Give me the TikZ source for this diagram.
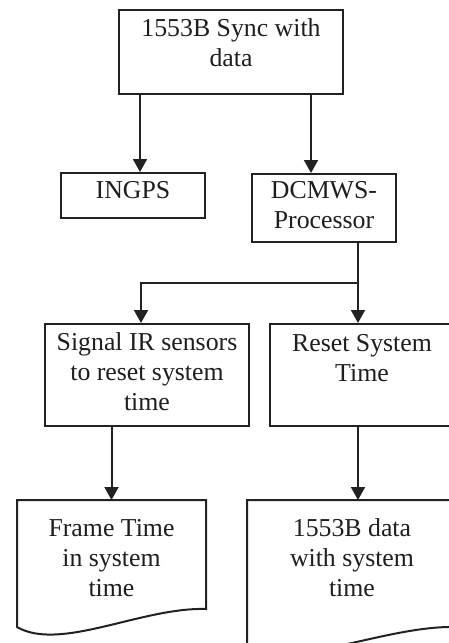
\documentclass[tikz,border=0pt]{standalone}
\usepackage{fontspec}
\setmainfont{Liberation Serif}
\usetikzlibrary{calc, arrows.meta, positioning}
\definecolor{inkline}{HTML}{222222}
\definecolor{inktext}{HTML}{1E1E1E}

\begin{document}
\begin{tikzpicture}[
    x=1pt, y=-1pt,
    >={Triangle[length=13pt, width=14pt]},
    line width=2pt,
    box/.style={draw=inkline, rectangle, anchor=north west, inner sep=0pt},
    page/.style={rectangle, anchor=north west, inner sep=0pt},
    boxtext/.style={inner sep=0pt, align=center, text=inktext,
        font=\fontsize{25.8}{30}\selectfont},
    flow/.style={->, draw=inkline},
    link/.style={draw=inkline}
]

    % Frame of the picture (pixel grid, y downwards)
    \useasboundingbox (0,0) rectangle (449,643);
    \clip (0,0) rectangle (449,643);

    % 1. Sync source
    \node[box, minimum width=224pt, minimum height=84pt] (sync) at (118,9) {};
    \node[boxtext, below=9pt of sync.north] (sync-t) {1553B Sync with\\data};

    % 2. Receivers
    \node[box, minimum width=144pt, minimum height=45pt] (ingps) at (60,172) {};
    \node[boxtext, below=8pt of ingps.north] (ingps-t) {INGPS};

    \node[box, minimum width=144pt, minimum height=68pt] (dcmws) at (251,173) {};
    \node[boxtext, below=7pt of dcmws.north] (dcmws-t) {DCMWS-\\Processor};

    % 3. Processor actions
    \node[box, minimum width=204pt, minimum height=102pt] (signal) at (44,323) {};
    \node[boxtext, below=9pt of signal.north] (signal-t) {Signal IR sensors\\to reset system\\time};

    \node[box, minimum width=184pt, minimum height=102pt] (reset) at (269,323) {};
    \node[boxtext, below=10pt of reset.north] (reset-t) {Reset System\\Time};

    % 4. Output documents (wavy bottom)
    \node[page, minimum width=187pt, minimum height=107pt] (frame) at (17,500) {};
    \draw[inkline] (frame.north west) -- (frame.north east) -- (frame.south east)
        .. controls ($(frame.south east)+(-64,-2)$) and ($(frame.south west)+(43,43)$)
        .. ($(frame.south west)+(0,18)$) -- cycle;
    \node[boxtext, below=18pt of frame.north] (frame-t) {Frame Time\\in system\\time};

    \node[page, minimum width=208pt, minimum height=125pt] (data) at (247,500) {};
    \draw[inkline] (data.north west) -- (data.north east) -- (data.south east)
        .. controls ($(data.south east)+(-71,-2)$) and ($(data.south west)+(48,43)$)
        .. ($(data.south west)+(0,20)$) -- cycle;
    \node[boxtext, below=18pt of data.north] (data-t) {1553B data\\with system\\time};

    % Connectors
    \draw[flow] ([xshift=22pt]sync.south west) -- ([xshift=22pt]sync.south west |- ingps.north);
    \draw[flow] ([xshift=-33pt]sync.south east) -- ([xshift=-33pt]sync.south east |- dcmws.north);

    \coordinate (split) at ($(dcmws.south)!0.5!(dcmws.south |- reset.north)+(34,0)$);
    \draw[link] (dcmws.south -| split) -- (split);
    \draw[flow] (split) -| ([xshift=-6pt]signal.north);
    \draw[flow] (split) -- (split |- reset.north);

    \draw[flow] (frame.north |- signal.south) -- (frame.north);
    \draw[flow] ([xshift=6pt]data.north |- reset.south) -- ([xshift=6pt]data.north);

\end{tikzpicture}
\end{document}
